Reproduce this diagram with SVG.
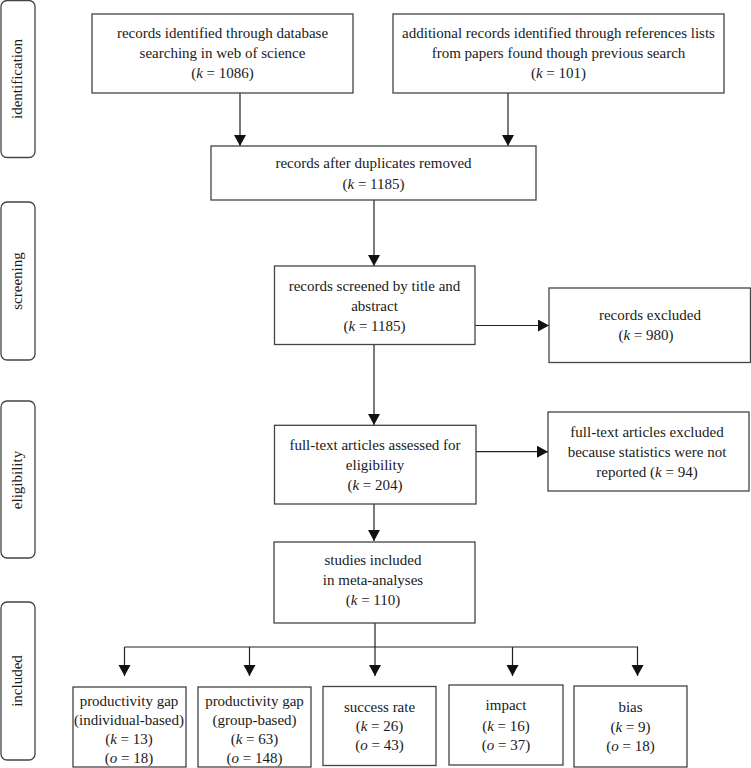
<svg xmlns="http://www.w3.org/2000/svg" width="751" height="768" viewBox="0 0 751 768">
<style>
.box{fill:#fff;stroke:#444;stroke-width:1.3}
.side{fill:#fff;stroke:#444;stroke-width:1.3}
.t{font-family:"Liberation Serif","Times New Roman",serif;font-size:15px;fill:#1a1a1a;text-anchor:middle}
.i{font-style:italic}
.c{stroke:#222;stroke-width:1.2;fill:none}
.ca{stroke:#222;stroke-width:1.2;fill:none;marker-end:url(#ah)}
</style>
<defs>
<marker id="ah" markerUnits="userSpaceOnUse" markerWidth="13" markerHeight="13" refX="11" refY="6" orient="auto">
<path d="M0,0 L11,6 L0,12 Z" fill="#111"/>
</marker>
</defs>
<rect width="751" height="768" fill="#fff"/>

<g id="side-identification">
<rect class="side" x="1" y="0.5" width="34" height="157" rx="6"/>
<text class="t" transform="translate(22,79) rotate(-90)">identification</text>
</g>
<g id="side-screening">
<rect class="side" x="1" y="202" width="34" height="158" rx="6"/>
<text class="t" transform="translate(22,281) rotate(-90)">screening</text>
</g>
<g id="side-eligibility">
<rect class="side" x="1" y="401" width="34" height="157" rx="6"/>
<text class="t" transform="translate(22,480) rotate(-90)">eligibility</text>
</g>
<g id="side-included">
<rect class="side" x="1" y="602" width="34" height="158" rx="6"/>
<text class="t" transform="translate(22,681) rotate(-90)">included</text>
</g>

<g id="connectors">
<line class="ca" x1="240" y1="93" x2="240" y2="146"/>
<line class="ca" x1="508" y1="93" x2="508" y2="146"/>
<line class="ca" x1="374" y1="200" x2="374" y2="266"/>
<line class="ca" x1="475" y1="325.5" x2="549" y2="325.5"/>
<line class="ca" x1="374" y1="344.5" x2="374" y2="425"/>
<line class="ca" x1="476" y1="451.7" x2="548" y2="451.7"/>
<line class="ca" x1="374" y1="504" x2="374" y2="541"/>
<line class="ca" x1="375" y1="623" x2="375" y2="676"/>
<polyline class="ca" points="124.5,647 637.5,647 637.5,676"/>
<line class="ca" x1="124.5" y1="647" x2="124.5" y2="676"/>
<line class="ca" x1="249.5" y1="647" x2="249.5" y2="676"/>
<line class="ca" x1="512.5" y1="647" x2="512.5" y2="676"/>
</g>

<g id="n-database">
<rect class="box" x="92" y="14" width="261" height="79"/>
<text class="t" x="222.5" y="38">records identified through database</text>
<text class="t" x="222.5" y="58">searching in web of science</text>
<text class="t" x="222.5" y="78">(<tspan class="i">k</tspan> = 1086)</text>
</g>
<g id="n-additional">
<rect class="box" x="393" y="14" width="331" height="79"/>
<text class="t" x="558.5" y="38">additional records identified through references lists</text>
<text class="t" x="558.5" y="58">from papers found though previous search</text>
<text class="t" x="558.5" y="78">(<tspan class="i">k</tspan> = 101)</text>
</g>
<g id="n-duplicates">
<rect class="box" x="211" y="146" width="325" height="54"/>
<text class="t" x="373.5" y="168">records after duplicates removed</text>
<text class="t" x="373.5" y="189">(<tspan class="i">k</tspan> = 1185)</text>
</g>
<g id="n-screened">
<rect class="box" x="274.5" y="266" width="200.5" height="78.5"/>
<text class="t" x="374.5" y="291">records screened by title and</text>
<text class="t" x="374.5" y="311">abstract</text>
<text class="t" x="374.5" y="331">(<tspan class="i">k</tspan> = 1185)</text>
</g>
<g id="n-excluded">
<rect class="box" x="549" y="288" width="201.5" height="74.5"/>
<text class="t" x="650" y="320">records excluded</text>
<text class="t" x="646" y="340">(<tspan class="i">k</tspan> = 980)</text>
</g>
<g id="n-fulltext">
<rect class="box" x="274.5" y="425.3" width="201.5" height="78.7"/>
<text class="t" x="375" y="450">full-text articles assessed for</text>
<text class="t" x="375" y="470">eligibility</text>
<text class="t" x="375" y="490">(<tspan class="i">k</tspan> = 204)</text>
</g>
<g id="n-fulltext-excluded">
<rect class="box" x="548" y="412" width="201" height="79"/>
<text class="t" x="647" y="437">full-text articles excluded</text>
<text class="t" x="647" y="457">because statistics were not</text>
<text class="t" x="647" y="477">reported (<tspan class="i">k</tspan> = 94)</text>
</g>
<g id="n-included">
<rect class="box" x="274" y="542" width="201" height="81"/>
<text class="t" x="373" y="565">studies included</text>
<text class="t" x="373" y="585">in meta-analyses</text>
<text class="t" x="373" y="605">(<tspan class="i">k</tspan> = 110)</text>
</g>
<g id="n-individual">
<rect class="box" x="73" y="687" width="113" height="80"/>
<text class="t" x="129" y="706">productivity gap</text>
<text class="t" x="129" y="725">(individual-based)</text>
<text class="t" x="129" y="744">(<tspan class="i">k</tspan> = 13)</text>
<text class="t" x="129" y="763">(<tspan class="i">o</tspan> = 18)</text>
</g>
<g id="n-group">
<rect class="box" x="198" y="687" width="113" height="80"/>
<text class="t" x="254.5" y="706">productivity gap</text>
<text class="t" x="254.5" y="725">(group-based)</text>
<text class="t" x="254.5" y="744">(<tspan class="i">k</tspan> = 63)</text>
<text class="t" x="254.5" y="763">(<tspan class="i">o</tspan> = 148)</text>
</g>
<g id="n-success">
<rect class="box" x="323" y="686.5" width="113" height="79"/>
<text class="t" x="379.5" y="712">success rate</text>
<text class="t" x="379.5" y="731">(<tspan class="i">k</tspan> = 26)</text>
<text class="t" x="379.5" y="750">(<tspan class="i">o</tspan> = 43)</text>
</g>
<g id="n-impact">
<rect class="box" x="449" y="685" width="114" height="80"/>
<text class="t" x="506" y="710">impact</text>
<text class="t" x="506" y="730.5">(<tspan class="i">k</tspan> = 16)</text>
<text class="t" x="506" y="750">(<tspan class="i">o</tspan> = 37)</text>
</g>
<g id="n-bias">
<rect class="box" x="574" y="686" width="113" height="81"/>
<text class="t" x="630.5" y="712">bias</text>
<text class="t" x="630.5" y="731.5">(<tspan class="i">k</tspan> = 9)</text>
<text class="t" x="630.5" y="751">(<tspan class="i">o</tspan> = 18)</text>
</g>
</svg>
